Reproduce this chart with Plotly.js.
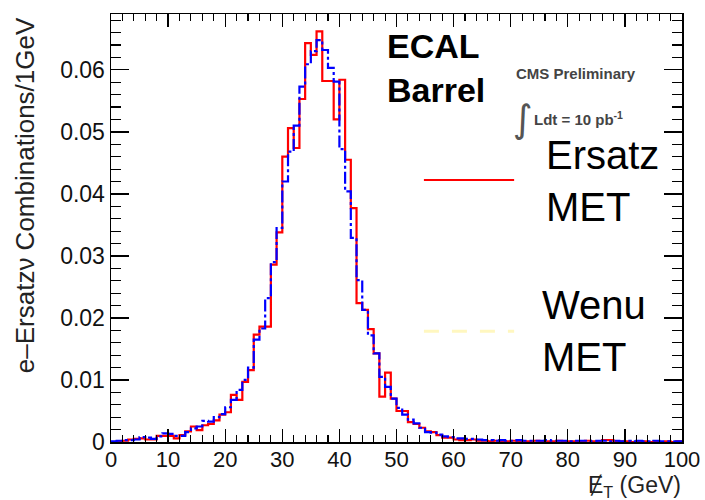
<!DOCTYPE html>
<html>
<head>
<meta charset="utf-8">
<script src="https://cdn.plot.ly/plotly-3.0.1.min.js"></script>
<style>html,body{margin:0;padding:0;background:#fff;}#chart{width:705px;height:500px;}</style>
</head>
<body>
<div id="chart"></div>
<script>
// Bin low edges (GeV), 1 GeV bins, plus the upper edge of the last bin
const binEdges = [0,1,2,3,4,5,6,7,8,9,10,11,12,13,14,15,16,17,18,19,20,21,22,23,24,25,26,27,28,29,30,31,32,33,34,35,36,37,38,39,40,41,42,43,44,45,46,47,48,49,50,51,52,53,54,55,56,57,58,59,60,61,62,63,64,65,66,67,68,69,70,71,72,73,74,75,76,77,78,79,80,81,82,83,84,85,86,87,88,89,90,91,92,93,94,95,96,97,98,99,100];

// Ersatz MET (red, solid)
const ersatzMET = [
 0.0000,0.0001,0.0002,0.0004,0.0005,0.0006,0.0004,0.0004,0.0010,0.0010,
 0.0010,0.0006,0.0011,0.0017,0.0025,0.0019,0.0027,0.0029,0.0035,0.0044,
 0.0048,0.0076,0.0068,0.0097,0.0116,0.0173,0.0186,0.0186,0.0286,0.0338,
 0.0460,0.0506,0.0474,0.0553,0.0643,0.0624,0.0662,0.0582,0.0582,0.0520,
 0.0584,0.0455,0.0377,0.0224,0.0213,0.0182,0.0143,0.0073,0.0112,0.0070,
 0.0050,0.0050,0.0032,0.0029,0.0023,0.0017,0.0016,0.0011,0.0007,0.0007,
 0.0004,0.0003,0.0003,0.0004,0.0002,0.0002,0.0001,0.0002,0.0001,0.0001,
 0.0002,0.0001,0.0001,0.0001,0.0002,0.0001,0.0001,0.0001,0.0002,0.0001,
 0.0001,0.0001,0.0001,0.0002,0.0001,0.0001,0.0003,0.0003,0.0001,0.0001,
 0.0001,0.0000,0.0001,0.0001,0.0000,0.0001,0.0000,0.0001,0.0000,0.0001];

// Wenu MET (blue, dash-dot)
const wenuMET = [
 0.0001,0.0002,0.0003,0.0003,0.0004,0.0008,0.0007,0.0005,0.0009,0.0014,
 0.0013,0.0010,0.0010,0.0016,0.0022,0.0025,0.0034,0.0033,0.0040,0.0045,
 0.0056,0.0068,0.0084,0.0100,0.0120,0.0165,0.0183,0.0232,0.0290,0.0345,
 0.0420,0.0468,0.0510,0.0573,0.0609,0.0630,0.0648,0.0632,0.0603,0.0581,
 0.0472,0.0404,0.0329,0.0261,0.0213,0.0172,0.0143,0.0105,0.0089,0.0070,
 0.0055,0.0044,0.0036,0.0030,0.0023,0.0016,0.0015,0.0012,0.0009,0.0008,
 0.0006,0.0006,0.0005,0.0005,0.0004,0.0003,0.0003,0.0002,0.0003,0.0002,
 0.0002,0.0003,0.0002,0.0002,0.0002,0.0002,0.0003,0.0002,0.0002,0.0002,
 0.0001,0.0002,0.0002,0.0002,0.0001,0.0002,0.0002,0.0001,0.0002,0.0001,
 0.0002,0.0001,0.0002,0.0001,0.0001,0.0002,0.0001,0.0001,0.0001,0.0001];

const seriesNames = ["Ersatz<br>MET", "Wenu<br>MET"];
const xTitle = "Ɇ<sub>T</sub> (GeV)";
const yTitle = "e–Ersatzν Combinations/1GeV";
const panelLabel = "ECAL<br>Barrel";
const cmsLabel = "CMS Preliminary";
const lumiLabel = "Ldt = 10 pb<sup>-1</sup>";

function stepY(vals){ return vals.concat([vals[vals.length-1]]); }

const FONT = "Liberation Sans, Arial, Helvetica, sans-serif";

const traces = [
  { type:"scatter", mode:"lines", x: binEdges, y: stepY(ersatzMET), name:"Ersatz MET",
    line:{shape:"hv", color:"#ff0000", width:2.2}, showlegend:false, hoverinfo:"skip" },
  { type:"scatter", mode:"lines", x: binEdges, y: stepY(wenuMET), name:"Wenu MET",
    line:{shape:"hv", color:"#0000ff", width:2.2, dash:"12px,3px,3px,3px"}, showlegend:false, hoverinfo:"skip" }
];

const layout = {
  width:705, height:500,
  margin:{l:111, r:23, t:14, b:58, pad:0},
  paper_bgcolor:"#ffffff", plot_bgcolor:"#ffffff",
  font:{family:FONT, color:"#111"},
  showlegend:false,
  xaxis:{
    range:[0,100], tick0:0, dtick:10, ticks:"inside", ticklen:13, tickwidth:1.3, tickcolor:"#000",
    showline:true, linecolor:"#000", linewidth:1.5, mirror:"allticks",
    showgrid:false, zeroline:false, ticklabelstandoff:-3,
    tickfont:{size:22, family:FONT, color:"#111"},
    minor:{dtick:2, ticks:"inside", ticklen:7, tickwidth:1.1, tickcolor:"#000", showgrid:false}
  },
  yaxis:{
    range:[0,0.069], tick0:0, dtick:0.01, ticks:"inside", ticklen:18, tickwidth:1.3, tickcolor:"#000",
    showline:true, linecolor:"#000", linewidth:1.5, mirror:"allticks",
    showgrid:false, zeroline:false,
    tickfont:{size:23, family:FONT, color:"#111"},
    minor:{dtick:0.002, ticks:"inside", ticklen:10, tickwidth:1.1, tickcolor:"#000", showgrid:false}
  },
  shapes:[
    {type:"line", xref:"paper", yref:"paper", x0:0.548, x1:0.706, y0:0.612, y1:0.612,
     line:{color:"#ff0000", width:2}},
    {type:"line", xref:"paper", yref:"paper", x0:0.548, x1:0.706, y0:0.259, y1:0.259,
     line:{color:"#fff7c0", width:3, dash:"15px,13px"}}
  ],
  annotations:[
    {xref:"paper", yref:"paper", x:0.758, y:0.610, xanchor:"left", yanchor:"middle", align:"left",
     text:seriesNames[0], showarrow:false, font:{size:40, family:FONT, color:"#000"}},
    {xref:"paper", yref:"paper", x:0.751, y:0.259, xanchor:"left", yanchor:"middle", align:"left",
     text:seriesNames[1], showarrow:false, font:{size:40, family:FONT, color:"#000"}},
    {xref:"paper", yref:"paper", x:0.480, y:0.874, xanchor:"left", yanchor:"middle", align:"left",
     text:"<b>"+panelLabel+"</b>", showarrow:false, font:{size:34, family:FONT, color:"#000"}},
    {xref:"paper", yref:"paper", x:0.814, y:0.862, xanchor:"center", yanchor:"middle",
     text:"<b>"+cmsLabel+"</b>", showarrow:false, font:{size:15, family:FONT, color:"#444"}},
    {xref:"paper", yref:"paper", x:0.7215, y:0.755, xanchor:"center", yanchor:"middle",
     text:"∫", showarrow:false, font:{size:38, family:"DejaVu Sans, sans-serif", color:"#555"}},
    {xref:"paper", yref:"paper", x:0.737, y:0.757, xanchor:"left", yanchor:"middle",
     text:"<b>"+lumiLabel+"</b>", showarrow:false, font:{size:15, family:FONT, color:"#444"}},
    {xref:"paper", yref:"paper", x:1.0, y:-0.104, xanchor:"right", yanchor:"middle", borderpad:0,
     text:xTitle, showarrow:false, font:{size:23, family:FONT, color:"#222"}},
    {xref:"paper", yref:"paper", x:-0.150, y:0.998, xanchor:"center", yanchor:"top", textangle:-90,
     text:yTitle, showarrow:false, font:{size:26, family:FONT, color:"#222"}}
  ]
};

Plotly.newPlot("chart", traces, layout, {staticPlot:true, displayModeBar:false});
</script>
</body>
</html>
